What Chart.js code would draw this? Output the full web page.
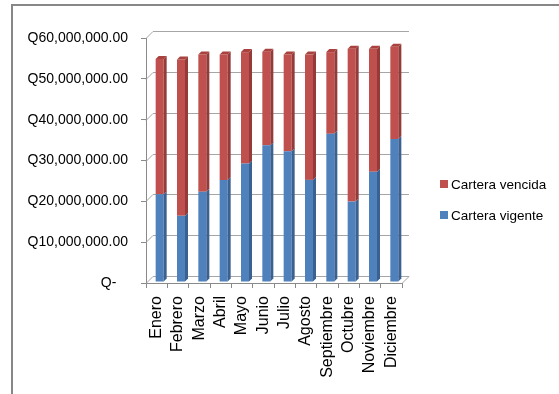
<!DOCTYPE html>
<html><head><meta charset="utf-8">
<script src="https://cdn.jsdelivr.net/npm/chart.js@4/dist/chart.umd.min.js"></script>
<style>html,body{margin:0;padding:0;background:#fff}canvas{display:block}</style>
</head><body>
<canvas id="c" width="559" height="394"></canvas>
<script>
// ---- data ----
const months = ['Enero','Febrero','Marzo','Abril','Mayo','Junio','Julio','Agosto','Septiembre','Octubre','Noviembre','Diciembre'];
const carteraVigente = [21.5e6, 16.2e6, 22.1e6, 25.0e6, 29.0e6, 33.5e6, 32.0e6, 25.0e6, 36.3e6, 19.7e6, 27.0e6, 35.0e6];
const carteraVencida = [33.1e6, 38.3e6, 33.6e6, 30.7e6, 27.3e6, 22.9e6, 23.7e6, 30.7e6, 20.0e6, 37.4e6, 30.1e6, 22.6e6];
const seriesNames = ['Cartera vigente', 'Cartera vencida'];
const yMin = 0, yMax = 60e6, yStep = 10e6;

// ---- styles ----
const FRONT = ['#4F81BD', '#C0504D'];
const SIDE  = ['#3A6190', '#943B39'];
const TOP   = ['#5B8BC4', '#A9423F'];
const GRID = '#a6a6a6';
const AXIS = '#8a8a8a';
const WALL_D = 7;   // wall depth offset
const BAR_D = 3;    // bar depth offset

function fmtQ(v) {
  if (v === 0) return 'Q-   ';
  return 'Q' + v.toLocaleString('en-US', {minimumFractionDigits: 2, maximumFractionDigits: 2});
}

const threeD = {
  id: 'threeD',
  beforeDraw(chart) {
    const ctx = chart.ctx;
    ctx.save();
    ctx.fillStyle = '#fff';
    ctx.fillRect(0, 0, chart.width, chart.height);
    ctx.strokeStyle = '#878787';
    ctx.lineWidth = 2;
    ctx.beginPath();
    ctx.moveTo(12, chart.height + 5);
    ctx.lineTo(12, 5);
    ctx.lineTo(chart.width + 5, 5);
    ctx.stroke();
    ctx.restore();
  },
  beforeDatasetsDraw(chart) {
    const ctx = chart.ctx, a = chart.chartArea, ys = chart.scales.y;
    ctx.save();
    ctx.strokeStyle = GRID;
    ctx.lineWidth = 1;
    ys.ticks.forEach(t => {
      const py = Math.round(ys.getPixelForValue(t.value)) + 0.5;
      ctx.beginPath();
      ctx.moveTo(a.left + WALL_D, py - WALL_D);
      ctx.lineTo(a.right + WALL_D, py - WALL_D);
      ctx.stroke();
      ctx.beginPath();
      ctx.moveTo(a.left, py);
      ctx.lineTo(a.left + WALL_D, py - WALL_D);
      ctx.stroke();
    });
    // floor right edge
    ctx.beginPath();
    ctx.moveTo(a.right, a.bottom + 0.5);
    ctx.lineTo(a.right + WALL_D, a.bottom + 0.5 - WALL_D);
    ctx.stroke();
    ctx.restore();
    ctx.save();
    ctx.translate(3, -1);
  },
  afterDatasetsDraw(chart) {
    const ctx = chart.ctx;
    const n = chart.data.datasets.length;
    for (let d = 0; d < n; d++) {
      const meta = chart.getDatasetMeta(d);
      meta.data.forEach(el => {
        const p = el.getProps(['x', 'y', 'base', 'width'], true);
        const r = p.x + p.width / 2, l = p.x - p.width / 2;
        const top = Math.min(p.y, p.base), bot = Math.max(p.y, p.base);
        ctx.fillStyle = SIDE[d];
        ctx.beginPath();
        ctx.moveTo(r, top);
        ctx.lineTo(r + BAR_D, top - BAR_D);
        ctx.lineTo(r + BAR_D, bot - BAR_D);
        ctx.lineTo(r, bot);
        ctx.closePath();
        ctx.fill();
        if (d === n - 1) {
          ctx.fillStyle = TOP[d];
          ctx.beginPath();
          ctx.moveTo(l, top);
          ctx.lineTo(l + BAR_D, top - BAR_D);
          ctx.lineTo(r + BAR_D, top - BAR_D);
          ctx.lineTo(r, top);
          ctx.closePath();
          ctx.fill();
        }
      });
    }
    ctx.restore();
  },
  afterDraw(chart) {
    const ctx = chart.ctx, a = chart.chartArea;
    ctx.save();
    ctx.font = '13.5px "Liberation Sans"';
    ctx.textBaseline = 'middle';
    ctx.textAlign = 'left';
    const ds = chart.data.datasets;
    const order = [ds.length - 1, 0];
    order.forEach((di, k) => {
      const cy = a.top + 147 + k * 31;
      ctx.fillStyle = ds[di].backgroundColor;
      ctx.fillRect(a.right + 38, cy - 5, 8, 8);
      ctx.fillStyle = '#000';
      ctx.fillText(ds[di].label, a.right + 49, cy);
    });
    ctx.restore();
  }
};

new Chart(document.getElementById('c'), {
  type: 'bar',
  data: {
    labels: months,
    datasets: [
      { label: seriesNames[0], data: carteraVigente, backgroundColor: FRONT[0], borderWidth: 0 },
      { label: seriesNames[1], data: carteraVencida, backgroundColor: FRONT[1], borderWidth: 0 }
    ]
  },
  options: {
    responsive: false,
    animation: false,
    devicePixelRatio: 1,
    layout: { padding: { top: 38, right: 157, bottom: 0, left: 0 } },
    datasets: { bar: { barPercentage: 0.5, categoryPercentage: 0.75 } },
    plugins: { legend: { display: false }, tooltip: { enabled: false } },
    scales: {
      x: {
        stacked: true,
        grid: { drawOnChartArea: false, color: AXIS, tickLength: 5, offset: true },
        border: { color: AXIS },
        ticks: {
          autoSkip: false, minRotation: 90, maxRotation: 90, padding: 8,
          color: '#000', font: { family: 'Liberation Sans', size: 16 }
        },
        afterFit(s) { s.height = 111; }
      },
      y: {
        stacked: true,
        min: yMin, max: yMax,
        grid: { drawOnChartArea: false, color: AXIS, tickLength: 5 },
        border: { color: AXIS },
        ticks: {
          stepSize: yStep, padding: 13, color: '#000',
          font: { family: 'Liberation Sans', size: 14 },
          callback: v => fmtQ(v)
        },
        afterFit(s) { s.width = 146; }
      }
    }
  },
  plugins: [threeD]
});
</script>
</body></html>
